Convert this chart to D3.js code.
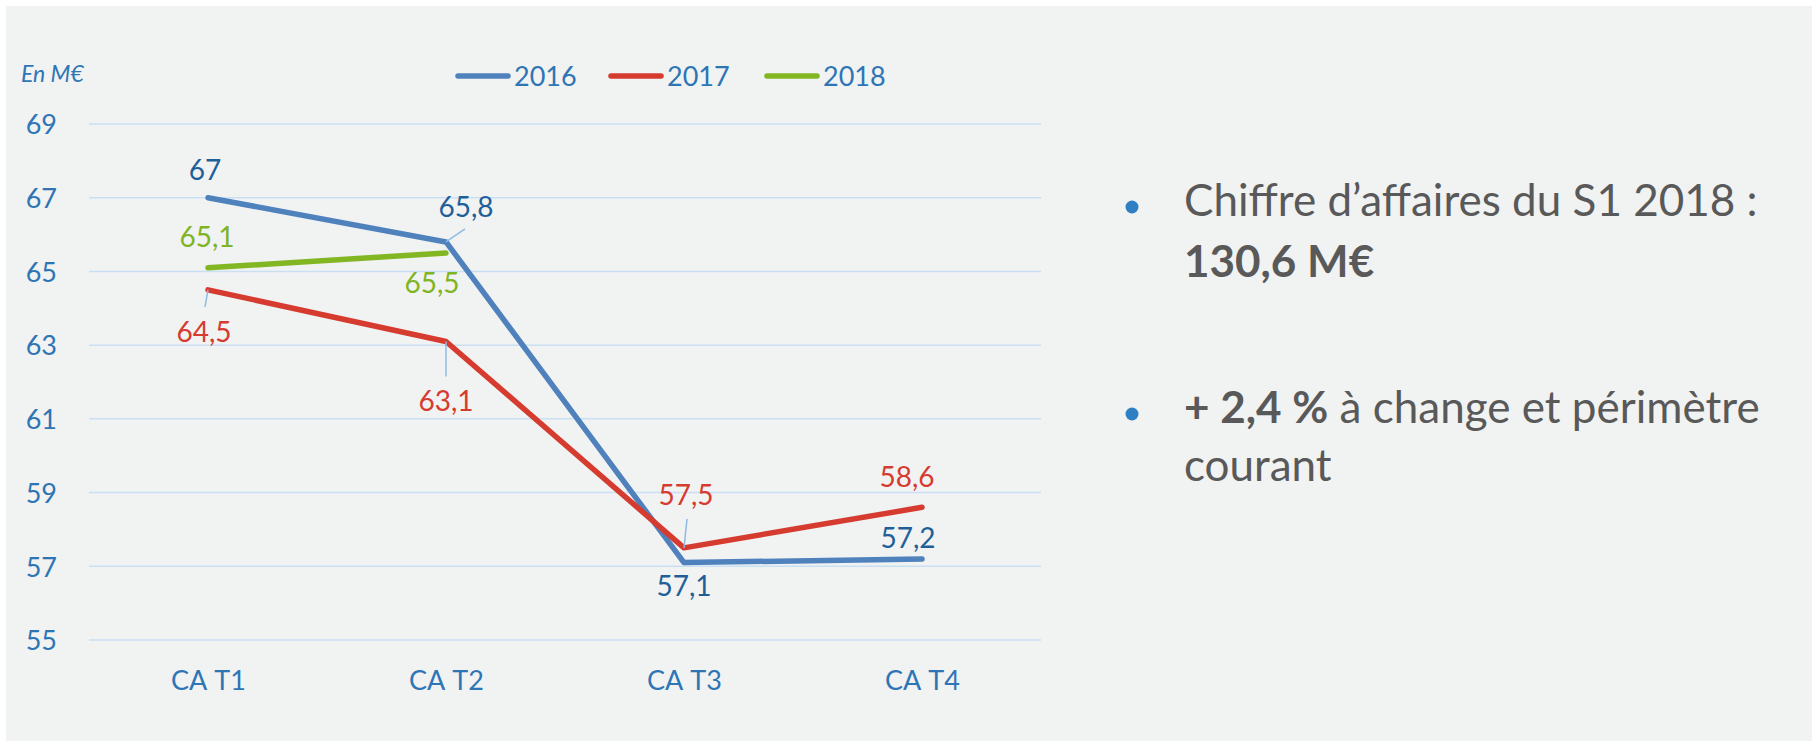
<html lang="fr">
<head>
    <meta charset="UTF-8">
    <title>Chiffre d'affaires</title>
    <script src="https://cdn.jsdelivr.net/npm/d3@7/dist/d3.min.js"></script>
    <style>
        body { margin: 0; background: #fff; }
        svg { display: block; font-family: Lato, "Noto Sans", sans-serif; }
    </style>
</head>
<body>
    <svg id="svg"></svg>

    <script>
        var WIDTH = 1812;
        var HEIGHT = 747;

        // data
        var categories = ["CA T1", "CA T2", "CA T3", "CA T4"];
        var years = ["2016", "2017", "2018"];
        var values2016 = [67, 65.8, 57.1, 57.2];
        var values2017 = [64.5, 63.1, 57.5, 58.6];
        var values2018 = [65.1, 65.5];
        var yTicks = [55, 57, 59, 61, 63, 65, 67, 69];

        var lineColors = {"2016": "#4f81bd", "2017": "#d63b2f", "2018": "#82b622"};
        var labelColors = {"2016": "#1f5f99", "2017": "#d63b2f", "2018": "#7fb522"};

        // label placement: offset of label centre from its point, optional leader end
        var labelPos = {
            "2016": [{dx: -3, dy: -28}, {dx: 20, dy: -35, lx: 19, ly: -13}, {dx: 0, dy: 23}, {dx: -14, dy: -21}],
            "2017": [{dx: -4, dy: 42, lx: -3, ly: 17}, {dx: 0, dy: 59, lx: 0, ly: 35}, {dx: 2, dy: -53, lx: 3, ly: -29}, {dx: -15, dy: -30}],
            "2018": [{dx: -1, dy: -31}, {dx: -14, dy: 30}]
        };

        var series = [
            {year: "2016", values: values2016},
            {year: "2017", values: values2017},
            {year: "2018", values: values2018}
        ];

        var fr = d3.formatLocale({decimal: ",", thousands: " ", grouping: [3], currency: ["", " €"]});
        var fmt = fr.format(".3~g");

        var svg = d3.select("#svg")
                    .attr("width", WIDTH)
                    .attr("height", HEIGHT);

        svg.append("rect")
           .attr("x", 6).attr("y", 6)
           .attr("width", WIDTH - 6).attr("height", 735)
           .attr("fill", "#f1f2f2");

        var xScale = d3.scalePoint()
                       .domain(categories)
                       .range([89, 1041])
                       .padding(0.5);

        var yScale = d3.scaleLinear()
                       .domain([55, 69])
                       .range([640, 124]);

        // gridlines
        svg.append("g")
           .selectAll("line")
           .data(yTicks)
           .enter()
           .append("line")
           .attr("x1", 89).attr("x2", 1041)
           .attr("y1", function(d){ return yScale(d); })
           .attr("y2", function(d){ return yScale(d); })
           .attr("stroke", "#c9e0f3")
           .attr("stroke-width", 1.5);

        // y axis
        var yAxis = d3.axisLeft(yScale).tickValues(yTicks).tickSize(0).tickPadding(0);
        var gy = svg.append("g")
                    .attr("transform", "translate(57,0)")
                    .call(yAxis);
        gy.select(".domain").remove();
        gy.selectAll("text")
          .attr("fill", "#2e75b6")
          .attr("font-size", 27)
          .attr("font-family", "Lato")
          .attr("dy", "0.36em");

        // x axis
        var xAxis = d3.axisBottom(xScale).tickSize(0).tickPadding(0);
        var gx = svg.append("g")
                    .attr("transform", "translate(0,680)")
                    .call(xAxis);
        gx.select(".domain").remove();
        gx.selectAll("text")
          .attr("fill", "#2e75b6")
          .attr("font-size", 27)
          .attr("font-family", "Lato")
          .style("font-kerning", "none")
          .attr("dy", "0.36em");

        // lines
        var line = d3.line()
                     .x(function(d, i){ return xScale(categories[i]); })
                     .y(function(d){ return yScale(d); });

        svg.append("g")
           .selectAll("path")
           .data(series)
           .enter()
           .append("path")
           .attr("d", function(s){ return line(s.values); })
           .attr("fill", "none")
           .attr("stroke", function(s){ return lineColors[s.year]; })
           .attr("stroke-width", 5.5)
           .attr("stroke-linecap", "round")
           .attr("stroke-linejoin", "round");

        // data labels and leaders
        series.forEach(function(s){
            var g = svg.append("g");
            s.values.forEach(function(v, i){
                var px = xScale(categories[i]);
                var py = yScale(v);
                var p = labelPos[s.year][i];
                if (p.lx !== undefined) {
                    g.append("line")
                     .attr("x1", px).attr("y1", py)
                     .attr("x2", px + p.lx).attr("y2", py + p.ly)
                     .attr("stroke", "#8fbbe3")
                     .attr("stroke-width", 1.5);
                }
                g.append("text")
                 .attr("x", px + p.dx)
                 .attr("y", py + p.dy)
                 .attr("dy", "0.36em")
                 .attr("text-anchor", "middle")
                 .attr("font-size", 28)
                 .attr("fill", labelColors[s.year])
                 .text(fmt(v));
            });
        });

        // unit
        svg.append("text")
           .attr("x", 21).attr("y", 74)
           .attr("dy", "0.36em")
           .attr("font-size", 23)
           .attr("font-style", "italic")
           .attr("fill", "#2e75b6")
           .text("En M€");

        // legend
        var legendX = d3.scaleOrdinal().domain(years).range([456, 609, 765]);
        var lg = svg.append("g").selectAll("g")
                    .data(years)
                    .enter()
                    .append("g")
                    .attr("transform", function(d){ return "translate(" + legendX(d) + ",76)"; });
        lg.append("line")
          .attr("x1", 2).attr("x2", 52)
          .attr("stroke", function(d){ return lineColors[d]; })
          .attr("stroke-width", 5.5)
          .attr("stroke-linecap", "round");
        lg.append("text")
          .attr("x", 58)
          .attr("dy", "0.36em")
          .attr("font-size", 27)
          .attr("fill", "#2e75b6")
          .text(function(d){ return d; });

        // commentary
        var note = svg.append("g").attr("fill", "#595959").attr("font-size", 44);
        note.append("circle").attr("cx", 1132).attr("cy", 207).attr("r", 6.5).attr("fill", "#2e7fc4");
        note.append("circle").attr("cx", 1132).attr("cy", 414).attr("r", 6.5).attr("fill", "#2e7fc4");

        note.append("text").attr("x", 1184).attr("y", 216).text("Chiffre d’affaires du S1 2018 :");
        note.append("text").attr("x", 1184).attr("y", 277).attr("font-weight", "bold").text("130,6 M€");
        var t3 = note.append("text").attr("x", 1184).attr("y", 423);
        t3.append("tspan").attr("font-weight", "bold").text("+ 2,4 %");
        t3.append("tspan").text(" à change et périmètre");
        note.append("text").attr("x", 1184).attr("y", 481).text("courant");
    </script>
</body>
</html>
